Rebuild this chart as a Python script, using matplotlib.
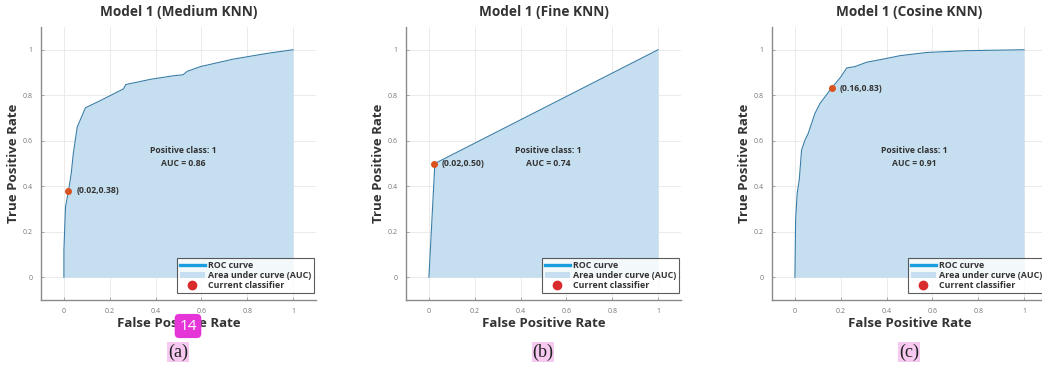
import matplotlib
matplotlib.use("Agg")
import matplotlib.pyplot as plt
from matplotlib.lines import Line2D
from matplotlib.patches import Patch

plt.rcParams['font.family'] = ['Open Sans', 'DejaVu Sans']

W, H = 1042, 367
DPI = 100

# ROC curves
fpr_medium = [0, 0, 0.007, 0.02, 0.032, 0.041, 0.058, 0.094, 0.16, 0.26, 0.27,
              0.378, 0.48, 0.52, 0.538, 0.596, 0.74, 0.887, 1.0]
tpr_medium = [0, 0.12, 0.31, 0.38, 0.457, 0.544, 0.66, 0.745, 0.777, 0.828, 0.847,
              0.87, 0.886, 0.89, 0.905, 0.926, 0.959, 0.984, 1.0]

fpr_fine = [0, 0.026, 1.0]
tpr_fine = [0, 0.50, 1.0]

fpr_cosine = [0, 0.003, 0.01, 0.019, 0.029, 0.044, 0.058, 0.087, 0.109, 0.157,
              0.197, 0.226, 0.262, 0.313, 0.386, 0.459, 0.575, 0.75, 1.0]
tpr_cosine = [0, 0.253, 0.37, 0.428, 0.559, 0.603, 0.632, 0.719, 0.763, 0.828,
              0.876, 0.92, 0.926, 0.945, 0.959, 0.974, 0.988, 0.996, 1.0]

titles = ['Model 1 (Medium KNN)', 'Model 1 (Fine KNN)', 'Model 1 (Cosine KNN)']
aucs = [0.86, 0.74, 0.91]
op_points = [(0.02, 0.38), (0.02, 0.50), (0.16, 0.83)]
captions = ['(a)', '(b)', '(c)']
ticks = [0, 0.2, 0.4, 0.6, 0.8, 1]
tick_labels = ['0', '0.2', '0.4', '0.6', '0.8', '1']

curves = [(fpr_medium, tpr_medium), (fpr_fine, tpr_fine), (fpr_cosine, tpr_cosine)]
lefts = [41, 406, 772]

FILL = '#c6dff0'
EDGE = '#3a7ea8'
DOT = '#d9531e'
TXT = '#333333'

fig = plt.figure(figsize=(W / DPI, H / DPI), dpi=DPI)

for i in range(3):
    ax = fig.add_axes([lefts[i] / W, 1 - 300 / H, 275 / W, 273 / H])
    fx, ty = curves[i]
    ax.fill_between(fx, ty, 0, color=FILL, lw=0)
    ax.plot(fx, ty, color=EDGE, lw=0.8)
    px, py = op_points[i]
    ax.plot(px, py, 'o', color=DOT, ms=4, zorder=5)
    ax.text(px + 0.035, py, '(%.2f,%.2f)' % (px, py), fontsize=6.2, fontweight='bold',
            color=TXT, va='center')
    ax.text(0.52, 0.555, 'Positive class: 1', fontsize=6.2, fontweight='bold',
            color=TXT, ha='center', va='center')
    ax.text(0.52, 0.5, 'AUC = %.2f' % aucs[i], fontsize=6.2, fontweight='bold',
            color=TXT, ha='center', va='center')

    ax.set_xlim(-0.1, 1.1)
    ax.set_ylim(-0.1, 1.1)
    ax.set_xticks(ticks)
    ax.set_yticks(ticks)
    ax.set_xticklabels(tick_labels)
    ax.set_yticklabels(tick_labels)
    ax.tick_params(direction='in', length=2, width=0.5, labelsize=5, colors='#888888',
                   labelcolor='#777777', pad=6)
    ax.grid(color='#e8e8e8', lw=0.6)
    ax.set_axisbelow(True)
    for s in ['top', 'right']:
        ax.spines[s].set_visible(False)
    for s in ['left', 'bottom']:
        ax.spines[s].set_color('#8a8a8a')
        ax.spines[s].set_linewidth(1.0)

    ax.set_title(titles[i], fontsize=9.8, fontweight='bold', color=TXT, pad=8)
    ax.set_xlabel('False Positive Rate', fontsize=9.5, fontweight='bold',
                  color=TXT, labelpad=1)
    ax.set_ylabel('True Positive Rate', fontsize=9.5, fontweight='bold',
                  color=TXT, labelpad=2)

    handles = [Line2D([], [], color='#1a9ee0', lw=2.4),
               Patch(facecolor=FILL, edgecolor='none'),
               Line2D([], [], marker='o', ls='none', color='#d92b2b', ms=6)]
    leg = ax.legend(handles, ['ROC curve', 'Area under curve (AUC)', 'Current classifier'],
                    loc='lower right', bbox_to_anchor=(1.0, 0.02),
                    prop={'weight': 'bold', 'size': 6.4}, frameon=True, fancybox=False,
                    borderpad=0.3, labelspacing=0.12, handlelength=2.8,
                    handletextpad=0.4, borderaxespad=0.2)
    leg.get_frame().set_edgecolor('#333333')
    leg.get_frame().set_linewidth(0.8)
    for t in leg.get_texts():
        t.set_color(TXT)

    cx = (lefts[i] + 137) / W
    fig.text(cx, 1 - 352 / H, captions[i], fontsize=13, family='Liberation Serif',
             ha='center', va='center', color='#222222',
             bbox=dict(boxstyle='square,pad=0.05', facecolor='#f7c9f0', edgecolor='none'))

# page badge overlay
fig.text(188 / W, 1 - 326 / H, '14', fontsize=11, color='white', ha='center', va='center',
         bbox=dict(boxstyle='round,pad=0.3,rounding_size=0.3', facecolor='#e535d9',
                   edgecolor='none'))

fig.savefig('out.png', dpi=DPI)
